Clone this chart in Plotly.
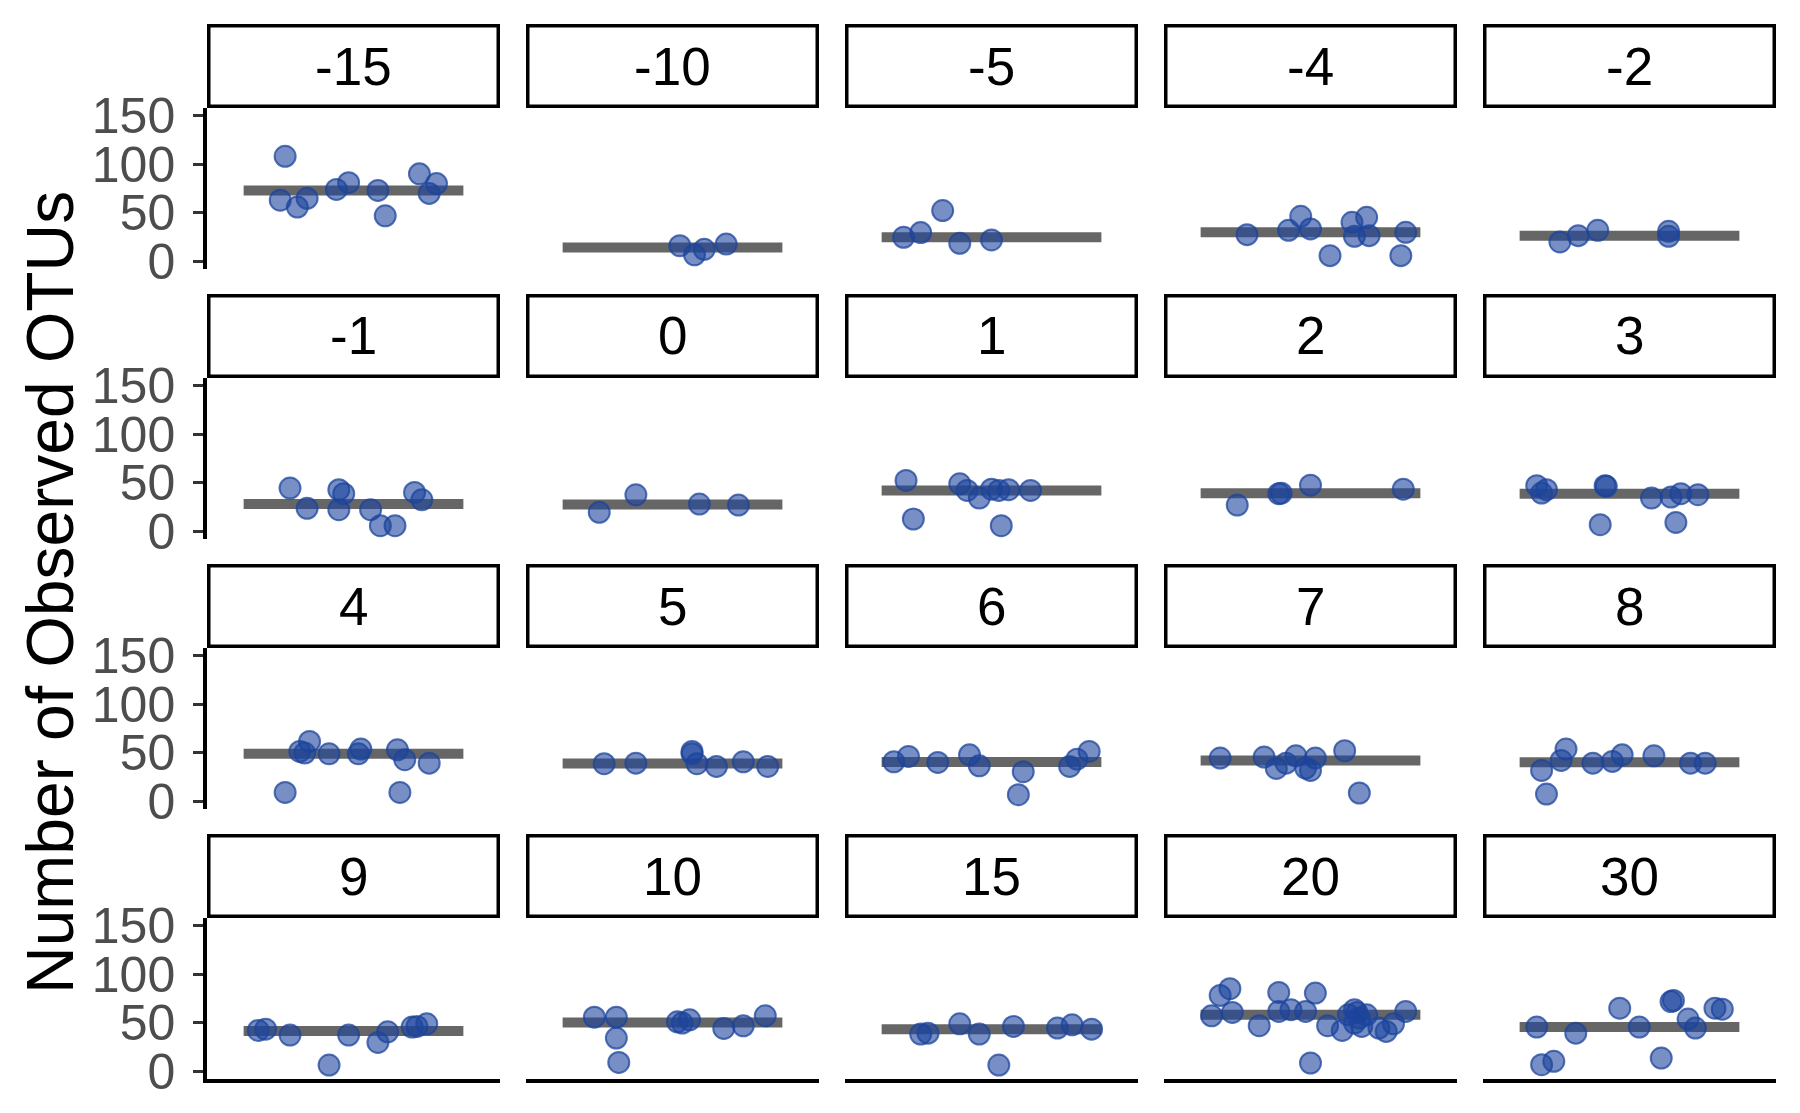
import numpy as np
import plotly.graph_objects as go

# ---------------- data ----------------
facet_labels = ["-15", "-10", "-5", "-4", "-2",
                "-1", "0", "1", "2", "3",
                "4", "5", "6", "7", "8",
                "9", "10", "15", "20", "30"]

otus_m15 = [108, 63, 56, 65, 74, 81, 73, 47, 90, 70, 80]
jit_m15 = [-0.28, -0.30, -0.23, -0.19, -0.07, -0.02, 0.10, 0.13, 0.27, 0.31, 0.34]
otus_m10 = [16.4, 7, 12.7, 18]
jit_m10 = [0.03, 0.09, 0.13, 0.22]
otus_m5 = [25, 29.8, 52.4, 18.8, 22.3]
jit_m5 = [-0.36, -0.29, -0.20, -0.13, 0.0]
otus_m4 = [27.7, 32.2, 46.5, 33.6, 6.2, 40.4, 45.5, 26, 26.7, 30.1, 6.2]
jit_m4 = [-0.26, -0.09, -0.04, 0.0, 0.08, 0.17, 0.23, 0.18, 0.24, 0.39, 0.37]
otus_m2 = [20.2, 26.7, 32.2, 31.1, 26]
jit_m2 = [-0.285, -0.21, -0.13, 0.16, 0.16]

otus_m1 = [44.7, 23.9, 43, 38.9, 22.5, 22.5, 6.1, 6.1, 40.2, 32.7]
jit_m1 = [-0.26, -0.19, -0.06, -0.04, -0.06, 0.07, 0.11, 0.17, 0.25, 0.28]
otus_0 = [19.8, 37.8, 28.3, 27.3]
jit_0 = [-0.30, -0.15, 0.11, 0.27]
otus_1 = [52.5, 13, 49.1, 42.3, 34.4, 43.6, 42.3, 6.1, 43, 42.3]
jit_1 = [-0.35, -0.32, -0.13, -0.10, -0.05, 0.0, 0.03, 0.04, 0.07, 0.16]
otus_2 = [27.3, 38.9, 39.5, 47.7, 43.6]
jit_2 = [-0.30, -0.13, -0.12, 0.0, 0.38]
otus_3 = [47.1, 43, 39.6, 47.1, 46.5, 7.2, 34.5, 35.5, 38.9, 37.9, 9.5]
jit_3 = [-0.38, -0.34, -0.36, -0.10, -0.095, -0.12, 0.09, 0.17, 0.21, 0.28, 0.19]

otus_4 = [9.5, 51.5, 49.8, 61.7, 49.1, 49.1, 53.9, 53.2, 43, 9.5, 39.5]
jit_4 = [-0.28, -0.22, -0.20, -0.18, -0.10, 0.02, 0.03, 0.18, 0.21, 0.19, 0.31]
otus_5 = [38.9, 39.5, 51.5, 49.1, 38.9, 36.1, 40.9, 36.1]
jit_5 = [-0.28, -0.15, 0.08, 0.08, 0.10, 0.18, 0.29, 0.39]
otus_6 = [40.9, 46.4, 40.2, 48, 36.8, 30.7, 7.2, 36.1, 43.6, 51.5]
jit_6 = [-0.40, -0.34, -0.22, -0.09, -0.05, 0.13, 0.11, 0.32, 0.35, 0.40]
otus_7 = [44.7, 45.7, 34.1, 39.5, 47, 34.4, 32, 44.7, 52.2, 8.9]
jit_7 = [-0.37, -0.19, -0.14, -0.10, -0.06, -0.02, 0.0, 0.02, 0.14, 0.20]
otus_8 = [32, 7.8, 42.3, 53.9, 39.5, 41.3, 48, 47, 39.5, 39.5]
jit_8 = [-0.36, -0.34, -0.28, -0.26, -0.15, -0.07, -0.03, 0.10, 0.25, 0.31]

otus_9 = [42.3, 43.6, 37.5, 6.8, 37.5, 30, 40.9, 45.7, 46.4, 49.1]
jit_9 = [-0.39, -0.36, -0.26, -0.10, -0.02, 0.10, 0.14, 0.24, 0.26, 0.30]
otus_10 = [55.9, 55.9, 34.4, 9.5, 51.1, 49.8, 53.2, 44.3, 47, 57.3]
jit_10 = [-0.32, -0.23, -0.23, -0.22, 0.02, 0.04, 0.07, 0.21, 0.29, 0.38]
otus_15 = [38.5, 39.5, 49.1, 38.5, 6.8, 46.4, 44.7, 48, 43.6]
jit_15 = [-0.29, -0.26, -0.13, -0.05, 0.03, 0.09, 0.27, 0.33, 0.41]
otus_20 = [57.3, 78.1, 85, 60.7, 47.1, 81.2, 61.7, 63.5, 61.7, 80.6, 47.1, 8.9,
           42.3, 58.3, 63.5, 60.7, 55, 46.4, 58.3, 44.7, 41.3, 49.1, 61.7, 49.8]
jit_20 = [-0.405, -0.37, -0.33, -0.32, -0.21, -0.13, -0.13, -0.08, -0.02, 0.02, 0.07, 0.0,
          0.13, 0.155, 0.18, 0.19, 0.20, 0.21, 0.23, 0.28, 0.31, 0.34, 0.39, 0.18]
otus_30 = [45.7, 7.2, 10.6, 39.5, 65.1, 45.7, 14, 71.9, 73, 53.9, 44.7, 65.1, 64.1]
jit_30 = [-0.38, -0.36, -0.31, -0.22, -0.04, 0.04, 0.13, 0.17, 0.18, 0.24, 0.27, 0.35, 0.38]

y_ticks = [0, 50, 100, 150]
y_title = "Number of Observed OTUs"

panel_otus = [otus_m15, otus_m10, otus_m5, otus_m4, otus_m2,
              otus_m1, otus_0, otus_1, otus_2, otus_3,
              otus_4, otus_5, otus_6, otus_7, otus_8,
              otus_9, otus_10, otus_15, otus_20, otus_30]
panel_jit = [jit_m15, jit_m10, jit_m5, jit_m4, jit_m2,
             jit_m1, jit_0, jit_1, jit_2, jit_3,
             jit_4, jit_5, jit_6, jit_7, jit_8,
             jit_9, jit_10, jit_15, jit_20, jit_30]

# ---------------- layout geometry (pixels) ----------------
W, H = 1800, 1113
NCOL, NROW = 5, 4
col_left0, col_step, col_w = 207, 319, 293
strip_top0, row_step, strip_h, panel_h = 24, 270, 84, 161

PT_FILL = "rgba(28,68,156,0.6)"
PT_EDGE = "rgba(28,68,156,0.75)"
LINE_COLOR = "#666666"
FONT = "Liberation Sans, Arial, sans-serif"

fig = go.Figure()
shapes = []
annotations = []

for i, lab in enumerate(facet_labels):
    r, c = divmod(i, NCOL)
    x0 = col_left0 + c * col_step
    x1 = x0 + col_w
    st = strip_top0 + r * row_step
    sb = st + strip_h
    pb = sb + panel_h
    ax = "" if i == 0 else str(i + 1)
    xa, ya = "x" + ax, "y" + ax

    med = float(np.median(panel_otus[i]))
    fig.add_trace(go.Scatter(
        x=[-0.45, 0.45], y=[med, med], mode="lines",
        line=dict(color=LINE_COLOR, width=10), xaxis=xa, yaxis=ya,
        showlegend=False, hoverinfo="skip"))
    fig.add_trace(go.Scatter(
        x=panel_jit[i], y=panel_otus[i], mode="markers",
        marker=dict(size=21, color=PT_FILL,
                    line=dict(color=PT_EDGE, width=2)),
        xaxis=xa, yaxis=ya, showlegend=False))

    left_col = (c == 0)
    bottom_row = (r == NROW - 1)
    fig.layout["xaxis" + ax] = dict(
        domain=[x0 / W, x1 / W], range=[-0.6, 0.6], anchor=ya,
        automargin=False,
        showgrid=False, zeroline=False, showticklabels=False, ticks="",
        showline=bottom_row, linecolor="black", linewidth=3.5, fixedrange=True)
    fig.layout["yaxis" + ax] = dict(
        domain=[1 - pb / H, 1 - sb / H], range=[-7.5, 157.5], anchor=xa,
        automargin=False,
        showgrid=False, zeroline=False,
        showticklabels=left_col, tickvals=y_ticks,
        ticks="outside" if left_col else "", ticklen=10, tickwidth=3,
        tickcolor="#333333", ticklabelstandoff=8,
        tickfont=dict(family=FONT, size=50, color="#4D4D4D"),
        showline=left_col, linecolor="black", linewidth=3.5, fixedrange=True)

    # strip box
    shapes.append(dict(type="rect", xref="paper", yref="paper",
                       x0=(x0 + 1.75) / W, x1=(x1 - 1.75) / W,
                       y0=1 - (sb - 1.75) / H, y1=1 - (st + 1.75) / H,
                       line=dict(color="black", width=3.5),
                       fillcolor="white", layer="below"))
    annotations.append(dict(text=lab, xref="paper", yref="paper",
                            x=(x0 + x1) / 2 / W, y=1 - (st + sb) / 2 / H,
                            xanchor="center", yanchor="middle", showarrow=False,
                            font=dict(family=FONT, size=53, color="black")))

annotations.append(dict(text=y_title, xref="paper", yref="paper",
                        x=50 / W, y=1 - 593 / H, textangle=-90,
                        xanchor="center", yanchor="middle", showarrow=False,
                        font=dict(family=FONT, size=66, color="black")))

fig.update_layout(
    width=W, height=H, margin=dict(l=0, r=0, t=0, b=0, autoexpand=False),
    paper_bgcolor="white", plot_bgcolor="white",
    shapes=shapes, annotations=annotations, showlegend=False)

fig.write_html("out.html")
